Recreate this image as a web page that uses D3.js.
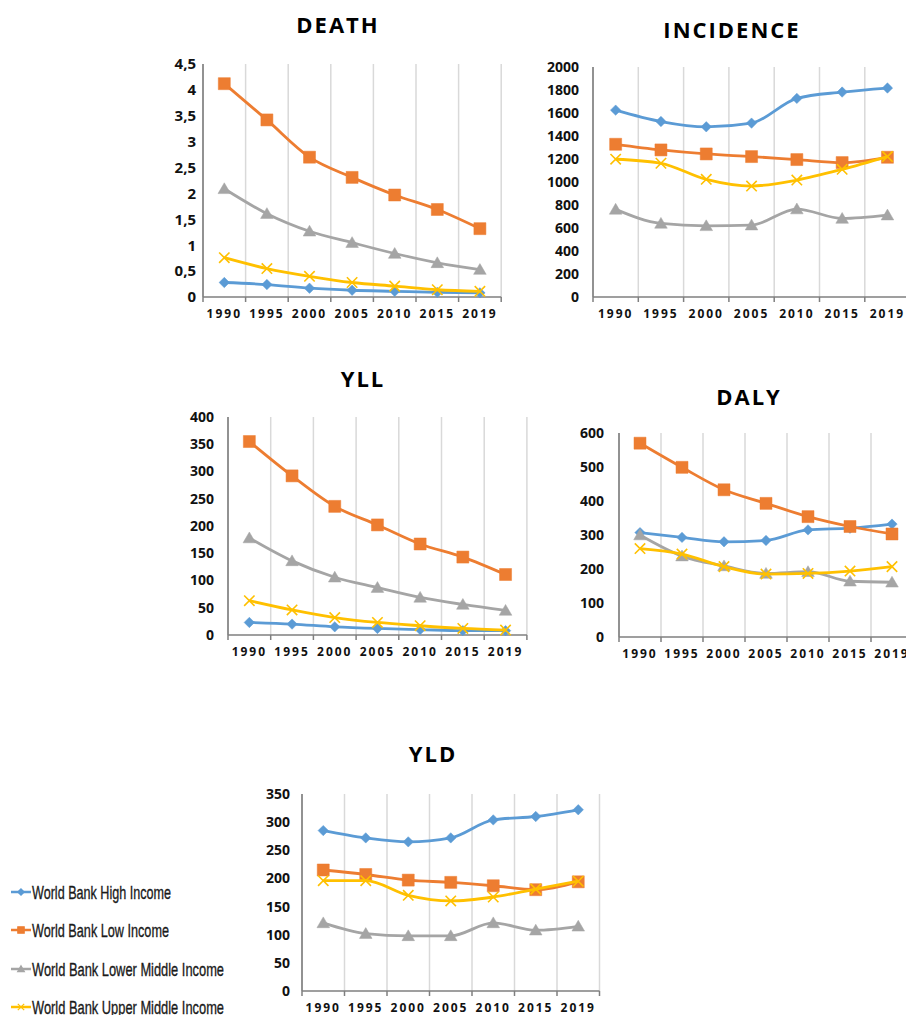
<!DOCTYPE html>
<html>
<head>
<meta charset="utf-8">
<script src="https://cdn.jsdelivr.net/npm/d3@7"></script>
<style>
html,body{margin:0;padding:0;background:#fff;}
svg{display:block;}
</style>
</head>
<body>
<svg id="chart" width="906" height="1015"></svg>
<script>
// ---------- DATA ----------
const years = ["1990","1995","2000","2005","2010","2015","2019"];
const seriesNames = ["World Bank High Income","World Bank Low Income","World Bank Lower Middle Income","World Bank Upper Middle Income"];

const deathHigh  = [0.28,0.24,0.17,0.13,0.11,0.09,0.08];
const deathLow   = [4.12,3.42,2.70,2.31,1.97,1.69,1.32];
const deathLower = [2.09,1.61,1.27,1.05,0.84,0.66,0.53];
const deathUpper = [0.76,0.55,0.40,0.28,0.21,0.14,0.11];

const incHigh  = [1625,1526,1480,1512,1727,1782,1817];
const incLow   = [1328,1279,1244,1221,1195,1169,1215];
const incLower = [762,640,619,625,765,683,712];
const incUpper = [1198,1163,1023,965,1017,1110,1221];

const yllHigh  = [23,20,15,12,10,8,8];
const yllLow   = [355,292,236,202,167,143,111];
const yllLower = [178,136,106,87,69,56,45];
const yllUpper = [63,46,32,23,17,12,9];

const dalyHigh  = [307,293,280,284,315,320,332];
const dalyLow   = [570,499,433,393,354,325,303];
const dalyLower = [300,238,209,187,192,164,161];
const dalyUpper = [260,244,207,185,187,194,207];

const yldHigh  = [285,272,265,272,304,310,322];
const yldLow   = [215,207,197,193,187,180,194];
const yldLower = [121,102,98,98,121,108,115];
const yldUpper = [196,196,170,160,167,181,195];

const deathTicks = [0,0.5,1,1.5,2,2.5,3,3.5,4,4.5];
const incTicks   = [0,200,400,600,800,1000,1200,1400,1600,1800,2000];
const yllTicks   = [0,50,100,150,200,250,300,350,400];
const dalyTicks  = [0,100,200,300,400,500,600];
const yldTicks   = [0,50,100,150,200,250,300,350];

// ---------- STYLE / LAYOUT ----------
const colors = ["#5B9BD5","#ED7D31","#A5A5A5","#FFC000"];
const markers = ["diamond","square","triangle","x"];
const legendWidths = [139,137,192,192];

const panels = [
  {title:"DEATH", data:[deathHigh,deathLow,deathLower,deathUpper], ticks:deathTicks, max:4.5,
   x0:203, cw:42.6, top:64, bottom:297, tx:338, ty:33, gap:7, fs:15, fmt:d=>String(d).replace(".",",")},
  {title:"INCIDENCE", data:[incHigh,incLow,incLower,incUpper], ticks:incTicks, max:2000,
   x0:593, cw:45.3, top:67, bottom:297, tx:732, ty:38, gap:14, fs:14, fmt:d=>String(d)},
  {title:"YLL", data:[yllHigh,yllLow,yllLower,yllUpper], ticks:yllTicks, max:400,
   x0:228, cw:42.7, top:417, bottom:635, tx:363, ty:387, gap:14, fs:14, fmt:d=>String(d)},
  {title:"DALY", data:[dalyHigh,dalyLow,dalyLower,dalyUpper], ticks:dalyTicks, max:600,
   x0:619, cw:42, top:433, bottom:637, tx:749, ty:405, gap:15, fs:14, fmt:d=>String(d)},
  {title:"YLD", data:[yldHigh,yldLow,yldLower,yldUpper], ticks:yldTicks, max:350,
   x0:302, cw:42.5, top:794, bottom:991, tx:433, ty:762, gap:12, fs:14, fmt:d=>String(d)}
];

const svg = d3.select("#chart");

function markerPath(type, s){
  if(type==="diamond") return `M0,${-s}L${s},0L0,${s}L${-s},0Z`;
  if(type==="square") return `M${-s},${-s}H${s}V${s}H${-s}Z`;
  if(type==="triangle") return `M0,${-s}L${s*1.05},${s*0.8}L${-s*1.05},${s*0.8}Z`;
  return `M${-s},${-s}L${s},${s}M${-s},${s}L${s},${-s}`;
}
const markerSize = {diamond:5.2, square:6, triangle:6, x:5.2};

panels.forEach(p=>{
  const g = svg.append("g");
  const x = d3.scaleBand().domain(years).range([p.x0, p.x0 + p.cw*years.length]).paddingInner(0).paddingOuter(0);
  const y = d3.scaleLinear().domain([0,p.max]).range([p.bottom,p.top]);

  g.append("text").attr("x",p.tx).attr("y",p.ty).attr("text-anchor","middle")
    .attr("font-family","'Open Sans', sans-serif").attr("font-weight","bold")
    .attr("font-size",22).attr("letter-spacing","2px").attr("fill","#000").text(p.title);

  const bounds = years.map(d=>x(d)+x.bandwidth()).filter(v=>v<906);
  g.selectAll(".grid").data(bounds).join("line")
    .attr("x1",d=>d).attr("x2",d=>d).attr("y1",p.top).attr("y2",p.bottom)
    .attr("stroke","#D9D9D9").attr("stroke-width",1.5);

  const yAxis = d3.axisLeft(y).tickValues(p.ticks).tickSize(0).tickPadding(p.gap).tickFormat(p.fmt);
  const ya = g.append("g").attr("transform",`translate(${p.x0},0)`).call(yAxis);
  ya.select(".domain").attr("stroke","#6e6e6e").attr("stroke-width",1.5).attr("d",`M0,${p.top}V${p.bottom}`);
  ya.selectAll("text").attr("font-family","'Open Sans', sans-serif").attr("font-weight","bold")
    .attr("font-size",p.fs).attr("fill","#111");

  const xAxis = d3.axisBottom(x).tickSize(0).tickPadding(12);
  const xa = g.append("g").attr("transform",`translate(0,${p.bottom})`).call(xAxis);
  xa.select(".domain").attr("stroke","#7f7f7f").attr("stroke-width",1.5)
    .attr("d",`M${p.x0},0H${Math.min(p.x0+p.cw*years.length, 906)}`);
  xa.selectAll("text").attr("font-family","'Open Sans', sans-serif").attr("font-weight","bold")
    .attr("font-size",12).attr("letter-spacing","2px").attr("fill","#111");
  g.selectAll(".xt").data([p.x0].concat(bounds)).join("line")
    .attr("x1",d=>d).attr("x2",d=>d).attr("y1",p.bottom).attr("y2",p.bottom+5)
    .attr("stroke","#7f7f7f").attr("stroke-width",1.5);

  const line = d3.line().x((d,i)=>x(years[i])+x.bandwidth()/2).y(d=>y(d)).curve(d3.curveMonotoneX);
  p.data.forEach((vals,si)=>{
    const sg = g.append("g");
    sg.append("path").attr("d",line(vals)).attr("fill","none")
      .attr("stroke",colors[si]).attr("stroke-width",2.8).attr("stroke-linejoin","round");
    sg.selectAll("path.m").data(vals).join("path").attr("class","m")
      .attr("transform",(d,i)=>`translate(${x(years[i])+x.bandwidth()/2},${y(d)})`)
      .attr("d",markerPath(markers[si], markerSize[markers[si]]))
      .attr("fill",markers[si]==="x"?"none":colors[si])
      .attr("stroke",colors[si]).attr("stroke-width",markers[si]==="x"?1.6:0.5);
  });
});

// legend
const legendY = [892,930,969,1007];
const lg = svg.append("g");
seriesNames.forEach((name,i)=>{
  const gi = lg.append("g").attr("transform",`translate(0,${legendY[i]})`);
  gi.append("line").attr("x1",11).attr("x2",31).attr("y1",0).attr("y2",0)
    .attr("stroke",colors[i]).attr("stroke-width",2.5);
  gi.append("path").attr("transform","translate(21,0)")
    .attr("d",markerPath(markers[i],3.2))
    .attr("fill",markers[i]==="x"?"none":colors[i]).attr("stroke",colors[i]).attr("stroke-width",1.2);
  gi.append("text").attr("x",32).attr("y",6.5)
    .attr("font-family","'Liberation Sans', Arial, sans-serif")
    .attr("font-size",19).attr("fill","#1a1a1a").attr("stroke","#1a1a1a").attr("stroke-width",0.35)
    .attr("textLength",legendWidths[i]).attr("lengthAdjust","spacingAndGlyphs")
    .text(name);
});
</script>
</body>
</html>
